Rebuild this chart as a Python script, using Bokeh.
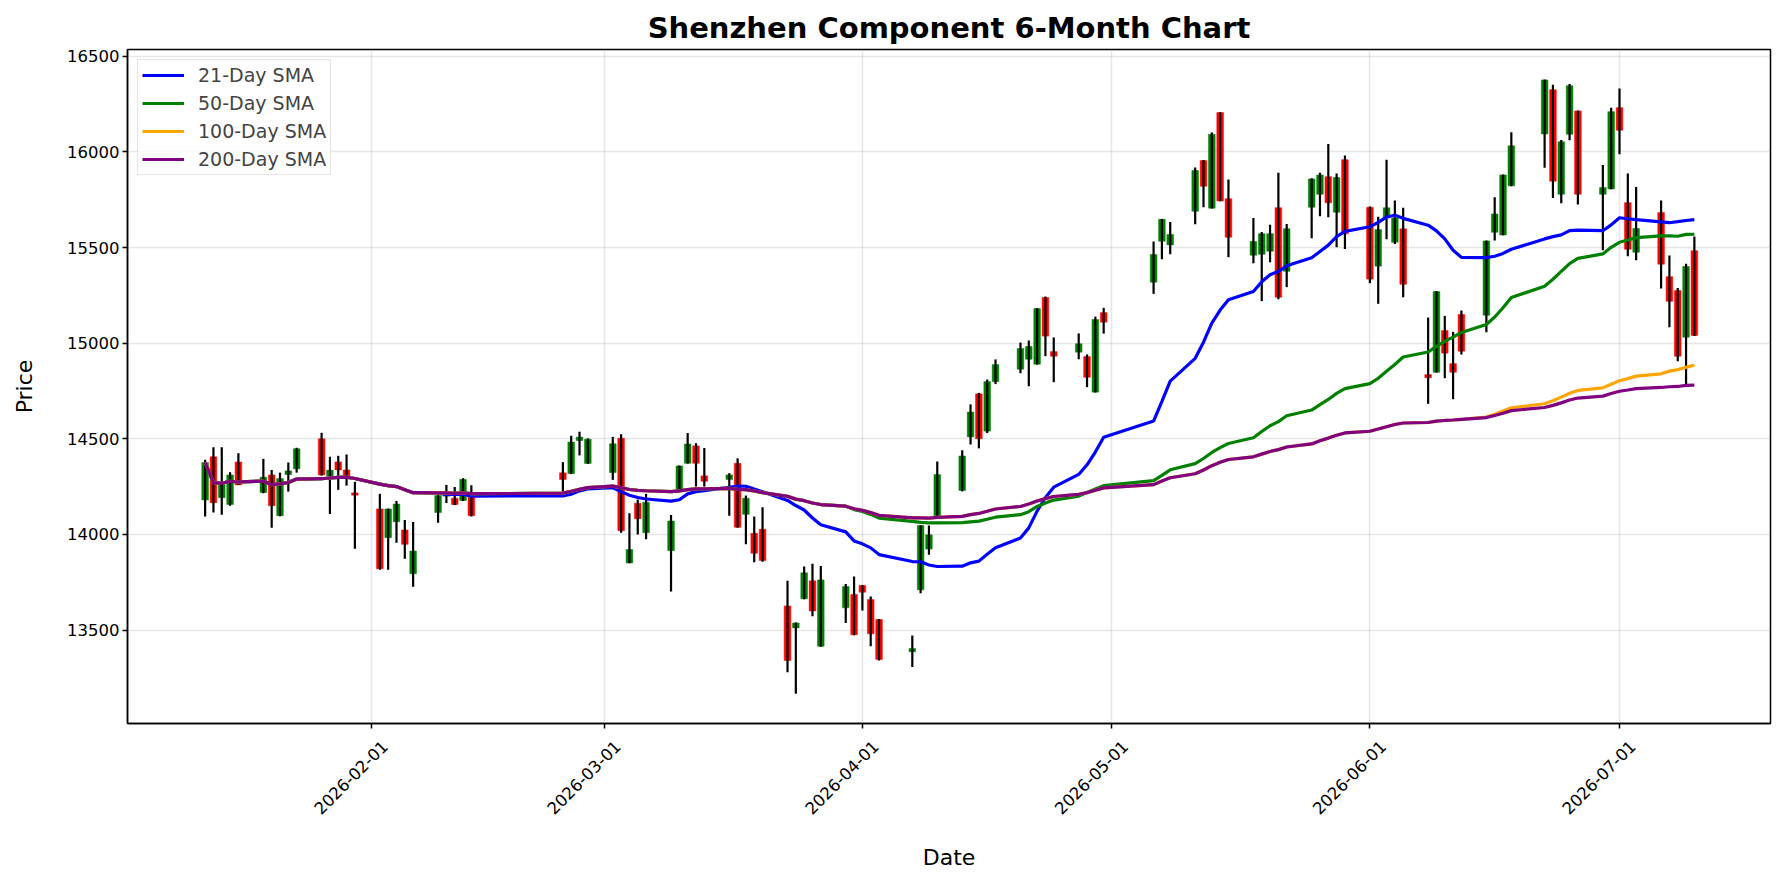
import math
import pandas as pd
from bokeh.plotting import figure
from bokeh.models import (Range1d, FixedTicker, Legend, LegendItem,
                          ColumnDataSource, DatetimeAxis)
from bokeh.embed import file_html
from bokeh.resources import INLINE

# Daily OHLC of the Shenzhen Component index
dates = [
    "2026-01-12", "2026-01-13", "2026-01-14", "2026-01-15", "2026-01-16",
    "2026-01-19", "2026-01-20", "2026-01-21", "2026-01-22", "2026-01-23",
    "2026-01-26", "2026-01-27", "2026-01-28", "2026-01-29", "2026-01-30",
    "2026-02-02", "2026-02-03", "2026-02-04", "2026-02-05", "2026-02-06",
    "2026-02-09", "2026-02-10", "2026-02-11", "2026-02-12", "2026-02-13",
    "2026-02-24", "2026-02-25", "2026-02-26", "2026-02-27",
    "2026-03-02", "2026-03-03", "2026-03-04", "2026-03-05", "2026-03-06",
    "2026-03-09", "2026-03-10", "2026-03-11", "2026-03-12", "2026-03-13",
    "2026-03-16", "2026-03-17", "2026-03-18", "2026-03-19", "2026-03-20",
    "2026-03-23", "2026-03-24", "2026-03-25", "2026-03-26", "2026-03-27",
    "2026-03-30", "2026-03-31", "2026-04-01", "2026-04-02", "2026-04-03",
    "2026-04-07", "2026-04-08", "2026-04-09", "2026-04-10",
    "2026-04-13", "2026-04-14", "2026-04-15", "2026-04-16", "2026-04-17",
    "2026-04-20", "2026-04-21", "2026-04-22", "2026-04-23", "2026-04-24",
    "2026-04-27", "2026-04-28", "2026-04-29", "2026-04-30",
    "2026-05-06", "2026-05-07", "2026-05-08",
    "2026-05-11", "2026-05-12", "2026-05-13", "2026-05-14", "2026-05-15",
    "2026-05-18", "2026-05-19", "2026-05-20", "2026-05-21", "2026-05-22",
    "2026-05-25", "2026-05-26", "2026-05-27", "2026-05-28", "2026-05-29",
    "2026-06-01", "2026-06-02", "2026-06-03", "2026-06-04", "2026-06-05",
    "2026-06-08", "2026-06-09", "2026-06-10", "2026-06-11", "2026-06-12",
    "2026-06-15", "2026-06-16", "2026-06-17", "2026-06-18",
    "2026-06-22", "2026-06-23", "2026-06-24", "2026-06-25", "2026-06-26",
    "2026-06-29", "2026-06-30", "2026-07-01", "2026-07-02", "2026-07-03",
    "2026-07-06", "2026-07-07", "2026-07-08", "2026-07-09", "2026-07-10",
]
opens = [
    14180, 14406, 14192, 14156, 14379,
    14219, 14311, 14098, 14313, 14343,
    14500, 14306, 14379, 14337, 14217,
    14133, 13983, 14066, 14023, 13794,
    14114, 14200, 14189, 14177, 14203,
    14322, 14318, 14491, 14371,
    14323, 14503, 13851, 14163, 14009,
    13915, 14236, 14372, 14463, 14306,
    14287, 14372, 14105, 14006, 14027,
    13626, 13511, 13663, 13757, 13415,
    13616, 13686, 13733, 13659, 13555,
    13386, 13710, 13923, 14097,
    14230, 14510, 14735, 14540, 14799,
    14864, 14916, 14890, 15239, 14956,
    14953, 14930, 14744, 15160,
    15319, 15533, 15514,
    15690, 15955, 15706, 16206, 15756,
    15460, 15465, 15481, 15709, 15376,
    15711, 15779, 15871, 15685, 15960,
    15711, 15403, 15655, 15528, 15598,
    14836, 14848, 15066, 14893, 15150,
    15146, 15580, 15566, 15823,
    16094, 16326, 15779, 16093, 16215,
    15779, 15807, 16232, 15735, 15476,
    15683, 15348, 15275, 15031, 15484,
]
highs = [
    14390, 14456, 14456, 14325, 14425,
    14395, 14337, 14323, 14376, 14453,
    14531, 14406, 14411, 14418, 14275,
    14212, 14135, 14175, 14075, 14065,
    14205, 14259, 14248, 14294, 14257,
    14378, 14516, 14537, 14502,
    14510, 14524, 14110, 14182, 14212,
    14102, 14360, 14530, 14477, 14452,
    14320, 14398, 14203, 14093, 14142,
    13757, 13539, 13832, 13846, 13835,
    13741, 13780, 13735, 13675, 13557,
    13471, 14048, 14046, 14381,
    14440, 14680, 14740, 14810, 14915,
    15003, 15014, 15183, 15244, 15030,
    15051, 14941, 15139, 15185,
    15532, 15650, 15634,
    15919, 15958, 16102, 16208, 15856,
    15655, 15582, 15620, 15892, 15624,
    15862, 15892, 16042, 15887, 15981,
    15715, 15661, 15960, 15746, 15709,
    15134, 15272, 15143, 15059, 15171,
    15537, 15763, 15882, 16103,
    16379, 16351, 16063, 16356, 16217,
    15932, 16232, 16332, 15887, 15817,
    15746, 15458, 15289, 15416, 15558,
]
lows = [
    14093, 14114, 14103, 14150, 14260,
    14215, 14035, 14095, 14224, 14323,
    14308, 14107, 14233, 14255, 13925,
    13815, 13815, 13956, 13872, 13726,
    14061, 14164, 14154, 14175, 14093,
    14224, 14316, 14413, 14369,
    14285, 14009, 13849, 14000, 13975,
    13701, 14234, 14370, 14250, 14250,
    14098, 14035, 13948, 13854, 13857,
    13279, 13166, 13661, 13572, 13413,
    13536, 13473, 13602, 13415, 13340,
    13306, 13692, 13893, 14095,
    14225, 14470, 14450, 14530, 14786,
    14843, 14775, 14888, 14932, 14796,
    14916, 14770, 14742, 15050,
    15258, 15439, 15465,
    15622, 15711, 15704, 15742, 15450,
    15418, 15220, 15423, 15230, 15293,
    15549, 15664, 15659, 15502, 15493,
    15314, 15206, 15544, 15519, 15240,
    14683, 14846, 14817, 14707, 14941,
    15057, 15537, 15564, 15821,
    15917, 15760, 15732, 16061, 15725,
    15486, 15805, 15988, 15455, 15434,
    15286, 15084, 14906, 14787, 15038,
]
closes = [
    14376, 14166, 14259, 14311, 14259,
    14299, 14150, 14292, 14332, 14448,
    14311, 14336, 14337, 14306, 14205,
    13820, 14133, 14159, 13948, 13913,
    14203, 14215, 14156, 14288, 14098,
    14287, 14483, 14509, 14498,
    14474, 14019, 13921, 14082, 14168,
    14070, 14358, 14473, 14372, 14278,
    14311, 14037, 14189, 13901, 13863,
    13340, 13537, 13799, 13600, 13762,
    13727, 13475, 13698, 13480, 13346,
    13403, 14046, 13998, 14313,
    14410, 14640, 14500, 14799, 14888,
    14972, 14983, 15181, 15037, 14932,
    14997, 14822, 15124, 15110,
    15464, 15648, 15568,
    15903, 15821, 16093, 15744, 15554,
    15532, 15573, 15573, 15240, 15599,
    15859, 15880, 15734, 15866, 15572,
    15335, 15594, 15708, 15655, 15308,
    14819, 15270, 14948, 14848, 14958,
    15535, 15676, 15880, 16032,
    16377, 15847, 16054, 16347, 15779,
    15814, 16211, 16114, 15491, 15600,
    15413, 15219, 14932, 15401, 15040,
]

sma_windows = [21, 50, 100, 200]
sma_labels = ["21-Day SMA", "50-Day SMA", "100-Day SMA", "200-Day SMA"]
sma_colors = ["#0000ff", "#008000", "#ffa500", "#800080"]

x_tick_labels = ["2026-02-01", "2026-03-01", "2026-04-01",
                 "2026-05-01", "2026-06-01", "2026-07-01"]
y_ticks = [13500, 14000, 14500, 15000, 15500, 16000, 16500]

FONT = "DejaVu Sans"
DAY_MS = 86400000

df = pd.DataFrame({"date": pd.to_datetime(dates), "open": opens, "high": highs,
                   "low": lows, "close": closes})
df["top"] = df[["open", "close"]].max(axis=1)
df["bottom"] = df[["open", "close"]].min(axis=1)
df["color"] = ["#008000" if c >= o else "#ff0000" for o, c in zip(opens, closes)]
for w in sma_windows:
    df[f"sma{w}"] = df["close"].rolling(w, min_periods=1).mean()

src = ColumnDataSource(df)

ref = pd.Timestamp("2026-02-01")
x_start = ref - pd.Timedelta(days=29.33)
x_end = ref + pd.Timedelta(days=168.15)

p = figure(width=1785, height=885, x_axis_type="datetime",
           output_backend="svg", toolbar_location=None,
           x_range=Range1d(x_start, x_end), y_range=Range1d(13011, 16536),
           min_border_left=127, min_border_right=15,
           min_border_top=49, min_border_bottom=162)

p.title.text = "Shenzhen Component 6-Month Chart"
p.title.align = "center"
p.title.text_font = FONT
p.title.text_font_size = "29px"
p.title.text_font_style = "bold"
p.title.text_color = "black"

# candle bodies, then wicks on top
p.vbar(x="date", width=0.8 * DAY_MS, top="top", bottom="bottom",
       fill_color="color", line_color="color", line_width=0.5, source=src)
p.segment(x0="date", y0="low", x1="date", y1="high", line_color="black",
          line_width=2.2, source=src)

items = []
for w, lab, col in zip(sma_windows, sma_labels, sma_colors):
    r = p.line(x="date", y=f"sma{w}", line_color=col, line_width=3.2, source=src)
    items.append(LegendItem(label=lab, renderers=[r]))

legend = Legend(items=items, location="top_left")
legend.label_text_font = FONT
legend.label_text_font_size = "19px"
legend.glyph_width = 42
legend.glyph_height = 20
legend.label_height = 20
legend.spacing = 6
legend.padding = 4
legend.margin = 10
legend.label_standoff = 14
legend.border_line_color = "#cccccc"
legend.border_line_width = 1.5
legend.background_fill_alpha = 0.8
p.add_layout(legend)

# month ticks on the main date axis (marks only)
tick_ms = [float(pd.Timestamp(t).value // 10**6) for t in x_tick_labels]
xa = p.xaxis[0]
xa.ticker = FixedTicker(ticks=tick_ms)
xa.major_label_overrides = {t: "" for t in tick_ms}
xa.major_label_text_font_size = "1px"
xa.major_label_standoff = 0
p.xgrid.ticker = FixedTicker(ticks=tick_ms)

# rotated month labels on a second date axis, nudged so each label's
# upper end sits just right of its tick
nudge = 1.6 * DAY_MS
lab_ms = [t + nudge for t in tick_ms]
xl = DatetimeAxis(ticker=FixedTicker(ticks=lab_ms),
                  major_label_overrides=dict(zip(lab_ms, x_tick_labels)))
xl.major_label_orientation = math.pi / 4
xl.major_tick_out = 0
xl.major_tick_in = 0
xl.minor_tick_out = 0
xl.minor_tick_in = 0
xl.axis_line_color = None
xl.major_label_standoff = 15
xl.major_label_text_font = FONT
xl.major_label_text_font_size = "16.5px"
xl.major_label_text_color = "black"
xl.axis_label = "Date"
xl.axis_label_standoff = 22
xl.axis_label_text_font = FONT
xl.axis_label_text_font_size = "22px"
xl.axis_label_text_font_style = "normal"
xl.axis_label_text_color = "black"
p.add_layout(xl, "below")

p.yaxis.ticker = FixedTicker(ticks=y_ticks)
p.yaxis.axis_label = "Price"
p.yaxis.axis_label_standoff = 27
p.yaxis.axis_label_text_font = FONT
p.yaxis.axis_label_text_font_size = "22px"
p.yaxis.axis_label_text_font_style = "normal"
p.yaxis.axis_label_text_color = "black"
p.yaxis.major_label_text_font = FONT
p.yaxis.major_label_text_font_size = "16.5px"
p.yaxis.major_label_text_color = "black"
p.yaxis.major_label_standoff = 3

for ax in (xa, p.yaxis[0]):
    ax.axis_line_color = "black"
    ax.axis_line_width = 1.5
    ax.major_tick_line_color = "black"
    ax.major_tick_line_width = 1.5
    ax.major_tick_out = 5
    ax.major_tick_in = 0
    ax.minor_tick_out = 0
    ax.minor_tick_in = 0

p.grid.grid_line_color = "#b0b0b0"
p.grid.grid_line_alpha = 0.3
p.grid.grid_line_width = 1.5
p.outline_line_color = "black"
p.outline_line_width = 1.5
p.outline_line_alpha = 1.0
p.background_fill_color = "white"
p.border_fill_color = "white"

open("out.html", "w").write(file_html(p, INLINE))
